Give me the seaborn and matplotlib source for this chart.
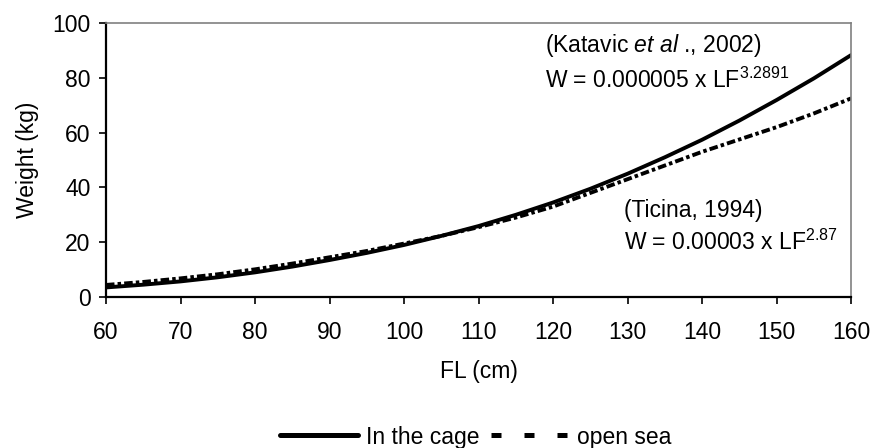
import numpy as np
import pandas as pd
import matplotlib
matplotlib.use("Agg")
import matplotlib.pyplot as plt
from matplotlib.lines import Line2D
import seaborn as sns

fl = [60, 65, 70, 75, 80, 85, 90, 95, 100, 105, 110, 115, 120, 125, 130, 135, 140, 145, 150, 155, 160]
cage = [3.5, 4.5, 5.7, 7.2, 9.0, 11.1, 13.5, 16.1, 19.0, 22.3, 25.9, 30.0, 34.5, 39.5, 45.0, 51.0, 57.4, 64.4, 71.9, 79.8, 88.3]
open_sea = [4.4, 5.5, 6.8, 8.3, 10.1, 12.2, 14.5, 16.8, 19.5, 22.3, 25.5, 29.0, 33.0, 38.0, 43.0, 48.0, 53.0, 57.5, 62.0, 67.0, 72.5]
series_names = ["In the cage", "open sea"]

df = pd.DataFrame({
    "FL": fl * 2,
    "W": cage + open_sea,
    "series": [series_names[0]] * len(fl) + [series_names[1]] * len(fl),
})

sns.set_theme(style="white")
plt.rcParams["font.family"] = ["Liberation Sans", "DejaVu Sans"]
plt.rcParams["mathtext.fontset"] = "custom"
plt.rcParams["mathtext.rm"] = "Liberation Sans"
plt.rcParams["mathtext.it"] = "Liberation Sans:italic"
plt.rcParams["text.color"] = "black"
plt.rcParams["axes.labelcolor"] = "black"
plt.rcParams["xtick.color"] = "black"
plt.rcParams["ytick.color"] = "black"

fig = plt.figure(figsize=(8.73, 4.48), dpi=100)
ax = fig.add_axes([0.1214, 0.337, 0.975 - 0.1214, 0.9487 - 0.337])

sns.lineplot(data=df, x="FL", y="W", hue="series", style="series",
             palette=["black", "black"], dashes={series_names[0]: "", series_names[1]: (2.2, 0.8, 0.9, 0.8)},
             linewidth=2.8, ax=ax, legend=False)

ax.set_xlim(60, 160)
ax.set_ylim(0, 100)
ax.set_xticks(range(60, 161, 10))
ax.set_yticks(range(0, 101, 20))
fs = 16.5
ax.tick_params(axis="both", which="both", direction="out", length=5, width=1.2,
               color="black", labelcolor="black", labelsize=fs, bottom=True, left=True)
ax.tick_params(axis="x", pad=12)
ax.tick_params(axis="y", pad=6)
for s in ["left", "bottom"]:
    ax.spines[s].set_color("black")
    ax.spines[s].set_linewidth(1.6)
for s in ["top", "right"]:
    ax.spines[s].set_color("#808080")
    ax.spines[s].set_linewidth(1.2)

ax.set_xlabel("FL (cm)", fontsize=fs, labelpad=12, color="black")
ax.set_ylabel("Weight (kg)", fontsize=fs, labelpad=10, color="black")

ax.text(118.9, 89.4, r"(Katavic $\mathit{et\ al}$ ., 2002)", fontsize=fs, ha="left", va="baseline")
ax.text(118.9, 76.3, r"W = 0.000005 x LF$^{3.2891}$", fontsize=fs, ha="left", va="baseline")
ax.text(129.5, 29.3, "(Ticina, 1994)", fontsize=fs, ha="left", va="baseline")
ax.text(129.5, 17.2, r"W = 0.00003 x LF$^{2.87}$", fontsize=fs, ha="left", va="baseline")

handles = [
    Line2D([], [], color="black", lw=3.6, ls="-"),
    Line2D([], [], color="black", lw=3.6, ls=(0, (2.0, 4.6)), dash_capstyle="butt"),
]
fig.legend(handles, series_names, loc="center", bbox_to_anchor=(476 / 873, 1 - 437 / 448),
           ncol=2, frameon=False, fontsize=fs, handlelength=3.4, handletextpad=0.35,
           columnspacing=0.5, borderpad=0)

fig.savefig("out.png", dpi=100)
